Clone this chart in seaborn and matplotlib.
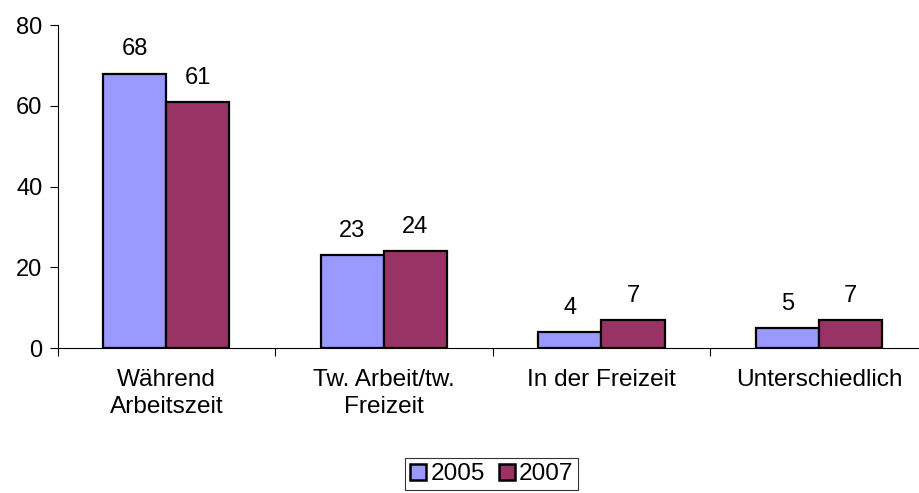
import seaborn as sns
import pandas as pd
import matplotlib.pyplot as plt
from matplotlib.lines import Line2D

kategorien = ["Während\nArbeitszeit", "Tw. Arbeit/tw.\nFreizeit", "In der Freizeit", "Unterschiedlich"]
werte_2005 = [68, 23, 4, 5]
werte_2007 = [61, 24, 7, 7]
jahre = ["2005", "2007"]
farben = ["#9999FF", "#993366"]

df = pd.DataFrame({
    "Kategorie": kategorien * 2,
    "Wert": werte_2005 + werte_2007,
    "Jahr": [jahre[0]] * 4 + [jahre[1]] * 4,
})

sns.set_style("white")
plt.rcParams["font.family"] = ["Liberation Sans", "DejaVu Sans"]
plt.rcParams["text.color"] = "black"
plt.rcParams["xtick.color"] = "black"
plt.rcParams["ytick.color"] = "black"

fs = 17

fig = plt.figure(figsize=(9.19, 4.93), dpi=100)
ax = fig.add_axes([0.0626, 0.294, 0.947, 0.655])

sns.barplot(data=df, x="Kategorie", y="Wert", hue="Jahr", palette=farben,
            width=0.58, gap=0, edgecolor="black", linewidth=1.6,
            saturation=1, legend=False, ax=ax)

for cont in ax.containers:
    for rect in cont:
        h = rect.get_height()
        ax.annotate(f"{h:.0f}", (rect.get_x() + rect.get_width() / 2, h),
                    xytext=(0, 9.5), textcoords="offset points",
                    ha="center", va="bottom", fontsize=fs)

ax.set_ylim(0, 80)
ax.set_xlim(-0.5, 3.5)
ax.set_yticks([0, 20, 40, 60, 80])
ax.set_xticks(range(4))
ax.set_xticklabels(kategorien, fontsize=17.6, linespacing=1.28)
ax.set_xticks([-0.5, 0.5, 1.5, 2.5, 3.5], minor=True)
ax.tick_params(axis="x", which="major", length=0, pad=15)
ax.tick_params(axis="x", which="minor", length=6, width=0.8, direction="out", bottom=True)
ax.tick_params(axis="y", length=6, width=0.8, direction="out", left=True, labelsize=fs, pad=5)
ax.set_xlabel("")
ax.set_ylabel("")
sns.despine(ax=ax, top=True, right=True)
for s in ["left", "bottom"]:
    ax.spines[s].set_color("black")
    ax.spines[s].set_linewidth(0.8)

handles = [Line2D([], [], marker="s", linestyle="", markersize=12,
                  markerfacecolor=c, markeredgecolor="black", markeredgewidth=1.8)
           for c in farben]
leg = fig.legend(handles, jahre, loc="center", bbox_to_anchor=(0.535, 0.038),
                 ncol=2, fontsize=17.6, frameon=True, fancybox=False,
                 handlelength=0.7, handletextpad=0.15, columnspacing=0.55,
                 borderpad=0.2, borderaxespad=0)
leg.get_frame().set_edgecolor("black")
leg.get_frame().set_linewidth(0.8)

fig.savefig("out.png", dpi=100)
